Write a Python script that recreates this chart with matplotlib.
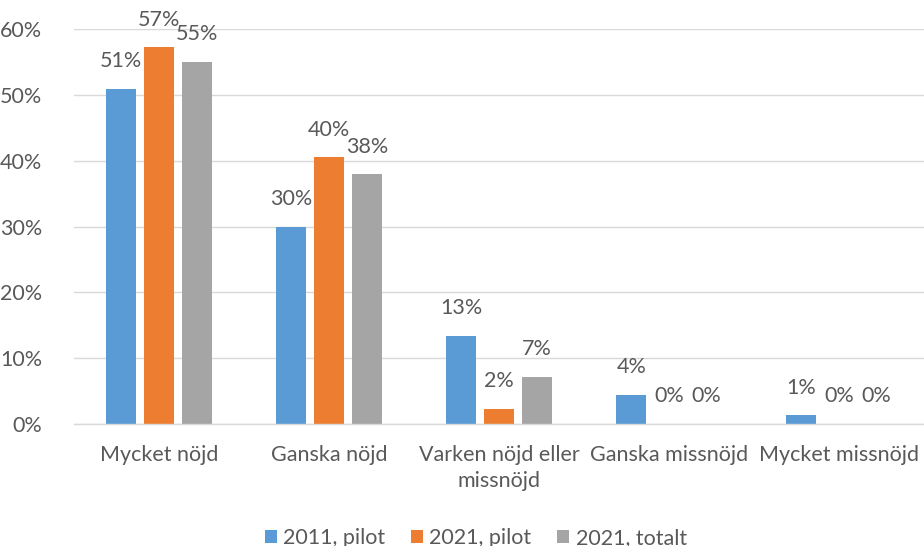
import matplotlib.pyplot as plt
import numpy as np

plt.rcParams['font.family'] = ['Lato', 'DejaVu Sans']

# Survey data (share of respondents)
categories = ['Mycket nöjd', 'Ganska nöjd', 'Varken nöjd eller\nmissnöjd',
              'Ganska missnöjd', 'Mycket missnöjd']
series_names = ['2011, pilot', '2021, pilot', '2021, totalt']
pilot_2011 = [0.509, 0.299, 0.134, 0.044, 0.013]
pilot_2021 = [0.572, 0.405, 0.023, 0.0, 0.0]
totalt_2021 = [0.550, 0.379, 0.072, 0.0, 0.0]

colors = ['#5B9BD5', '#ED7D31', '#A5A5A5']
text_color = '#595959'
fs = 15.5

fig = plt.figure(figsize=(9.24, 5.46), dpi=100)
ax = fig.add_axes([0.0801, 0.2234, 0.9199, 0.7235])

x = np.arange(len(categories))
width = 0.174
step = 0.222

for i, (vals, name) in enumerate(zip([pilot_2011, pilot_2021, totalt_2021], series_names)):
    pos = x + (i - 1) * step
    ax.bar(pos, vals, width, color=colors[i], label=name, zorder=3)
    for xp, v in zip(pos, vals):
        ax.annotate(f"{round(v * 100):.0f}%", (xp, v), xytext=(0, 20),
                    textcoords='offset points', ha='center', va='center',
                    fontsize=fs, color=text_color)

ax.set_xlim(-0.5, len(categories) - 0.5)
ax.set_ylim(0, 0.6)
ticks = np.arange(0, 0.61, 0.1)
ax.set_yticks(ticks)
ax.set_yticklabels([f"{int(round(t * 100))}%" for t in ticks])
ax.set_xticks(x)
ax.set_xticklabels(categories, linespacing=1.4)

ax.tick_params(axis='both', length=0, labelsize=fs, colors=text_color)
ax.tick_params(axis='y', pad=23)
ax.tick_params(axis='x', pad=15)

ax.grid(axis='y', color='#D9D9D9', linewidth=1, zorder=0)
for s in ['top', 'right', 'left']:
    ax.spines[s].set_visible(False)
ax.spines['bottom'].set_color('#D9D9D9')
ax.spines['bottom'].set_linewidth(1)
ax.spines['bottom'].set_zorder(4)

leg = fig.legend(loc='center', bbox_to_anchor=(0.515, 0.015), ncol=3, frameon=False,
                 fontsize=fs, handlelength=0.55, handleheight=0.55, handletextpad=0.3,
                 columnspacing=1.2)
for t in leg.get_texts():
    t.set_color(text_color)

fig.savefig('out.png', dpi=100)
